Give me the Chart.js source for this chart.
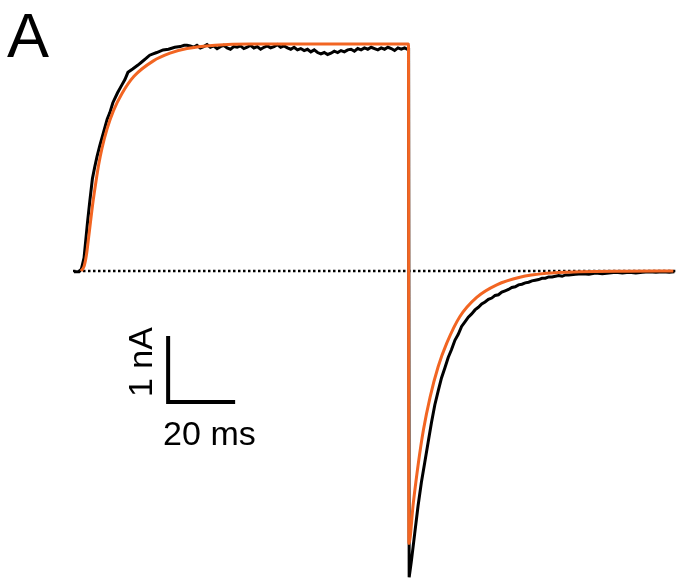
<!DOCTYPE html>
<html>
<head>
<meta charset="utf-8">
<script src="https://cdn.jsdelivr.net/npm/chart.js@4"></script>
<style>
  body { margin: 0; background: #fff; }
  #wrap { width: 677px; height: 581px; position: relative; }
</style>
</head>
<body>
<div id="wrap"><canvas id="traceChart"></canvas></div>
<script>
// recorded current (ms, nA)
const traceTime = [
  0.3, 1.0, 1.8, 2.5, 3.3, 4.3, 5.0, 5.8, 6.5, 7.2, 8.0, 9.0, 10.2, 11.0, 11.9, 13.3, 14.6, 15.5, 16.4, 17.8,
  19.4, 20.6, 21.8, 22.9, 23.9, 25.0, 26.9, 28.5, 30.4, 32.0, 33.2, 34.0,
  35, 36, 37, 38, 39, 40, 41, 42, 43, 44, 45, 46, 47, 48, 49, 50, 51, 52, 53, 54,
  55, 56, 57, 58, 59, 60, 61, 62, 63, 64, 65, 66, 67, 68, 69, 70, 71, 72, 73, 74,
  75, 76, 77, 78, 79, 80, 81, 82, 83, 84, 85, 86, 87, 88, 89, 90, 91, 92, 93, 94,
  95, 96, 97, 98, 99, 99.8, 100.18,
  100.35, 101, 102, 103, 104, 105, 106, 107, 108, 109, 110, 111, 112, 113, 114, 115, 116, 117, 118, 119,
  120, 121, 122, 123, 124, 125, 126, 127, 128, 129, 130, 131, 132, 133, 134, 135, 136, 137, 138, 139,
  140, 141, 142, 143, 144, 145, 146, 147, 148, 150, 152, 154, 156, 158, 160, 162, 164, 166, 168, 170,
  172, 174, 176, 178, 179.5
];
const traceCurrent = [
  -0.01, -0.01, -0.01, 0.03, 0.20, 0.72, 1.05, 1.40, 1.58, 1.74, 1.90, 2.08, 2.30, 2.40, 2.55, 2.70, 2.82, 2.90, 3.01, 3.06,
  3.12, 3.17, 3.22, 3.27, 3.29, 3.31, 3.35, 3.36, 3.39, 3.40, 3.42, 3.42,
  3.41, 3.39, 3.42, 3.38, 3.40, 3.43, 3.39, 3.41, 3.37, 3.40, 3.42, 3.38, 3.36, 3.40, 3.39, 3.41, 3.37, 3.39, 3.42, 3.38,
  3.40, 3.36, 3.39, 3.41, 3.38, 3.40, 3.43, 3.39, 3.41, 3.38, 3.36, 3.39, 3.35, 3.37, 3.34, 3.36, 3.32, 3.35, 3.31, 3.29,
  3.31, 3.28, 3.30, 3.33, 3.31, 3.34, 3.32, 3.35, 3.36, 3.33, 3.37, 3.35, 3.38, 3.36, 3.39, 3.37, 3.35, 3.38, 3.36, 3.39,
  3.37, 3.34, 3.38, 3.36, 3.38, 3.36, 3.36,
  -4.64, -4.40, -3.98, -3.56, -3.20, -2.90, -2.60, -2.30, -2.03, -1.82, -1.62, -1.47, -1.31, -1.19, -1.05, -0.96, -0.84, -0.77, -0.70, -0.65,
  -0.59, -0.55, -0.50, -0.47, -0.43, -0.41, -0.37, -0.36, -0.32, -0.30, -0.28, -0.25, -0.24, -0.21, -0.20, -0.18, -0.17, -0.15, -0.14, -0.13,
  -0.11, -0.11, -0.09, -0.09, -0.08, -0.07, -0.08, -0.06, -0.06, -0.05, -0.04, -0.05, -0.03, -0.04, -0.03, -0.02, -0.03, -0.02, -0.03, -0.02,
  -0.01, -0.02, -0.01, -0.02, -0.01
];

// fitted curve (ms, nA)
const fitTime = [
  2.4, 3.3, 4.03, 4.6, 5.22, 6.0, 6.87, 7.7, 8.66, 10.15, 12.09, 14.63, 18.21, 23.88, 28.96, 34.03, 42.39, 52.84, 100.15,
  100.25, 101.6, 103.1, 104.6, 106.6, 109.0, 111.6, 115.5, 120.5, 126.5, 133.4, 141.4, 151.3, 165, 179.2
];
const fitCurrent = [
  0, 0.07, 0.25, 0.48, 0.74, 1.06, 1.36, 1.62, 1.86, 2.15, 2.43, 2.69, 2.95, 3.18, 3.30, 3.37, 3.42, 3.44, 3.44,
  -4.13, -3.51, -2.91, -2.41, -1.91, -1.45, -1.09, -0.69, -0.40, -0.21, -0.095, -0.035, -0.012, -0.003, 0
];

// zero-current line
const baselineTime = [0, 179.8];
const baselineCurrent = [0, 0];

// scale bar: 20 ms, 1 nA
const scaleBarTime = [28.4, 28.4, 48.4];
const scaleBarCurrent = [-0.985, -1.985, -1.985];

const panelLabel = "A";
const timeBarLabel = "20 ms";
const currentBarLabel = "1 nA";

const toPoints = (xs, ys) => xs.map((x, i) => ({ x: x, y: ys[i] }));

const labelFont = "Liberation Sans, Arial, sans-serif";

const textPlugin = {
  id: "barText",
  afterDatasetsDraw(chart) {
    const c = chart.ctx;
    const xs = chart.scales.x;
    const ys = chart.scales.y;
    c.save();
    c.fillStyle = "#000";
    c.textBaseline = "alphabetic";

    c.font = "63px " + labelFont;
    c.textAlign = "left";
    c.fillText(panelLabel, xs.getPixelForValue(-19.7), ys.getPixelForValue(3.242));

    c.font = "34px " + labelFont;
    c.fillText(timeBarLabel, xs.getPixelForValue(26.9), ys.getPixelForValue(-2.636));

    c.translate(xs.getPixelForValue(23.6), ys.getPixelForValue(-1.379));
    c.rotate(-Math.PI / 2);
    c.textAlign = "center";
    c.fillText(currentBarLabel, 0, 0);
    c.restore();
  },
};

// first dataset is drawn on top
const ctx = document.getElementById("traceChart").getContext("2d");
const traceChart = new Chart(ctx, {
  type: "line",
  data: {
    datasets: [
      {
        label: "fit",
        data: toPoints(fitTime, fitCurrent),
        borderColor: "#f26522",
        borderWidth: 3,
        pointRadius: 0,
        cubicInterpolationMode: "monotone",
      },
      {
        label: "scale",
        data: toPoints(scaleBarTime, scaleBarCurrent),
        borderColor: "#000",
        borderWidth: 4,
        borderCapStyle: "butt",
        borderJoinStyle: "miter",
        pointRadius: 0,
        tension: 0,
      },
      {
        label: "current",
        data: toPoints(traceTime, traceCurrent),
        borderColor: "#000",
        borderWidth: 3,
        pointRadius: 0,
        tension: 0,
      },
      {
        label: "baseline",
        data: toPoints(baselineTime, baselineCurrent),
        borderColor: "#000",
        borderWidth: 2.5,
        borderDash: [2.5, 2.5],
        pointRadius: 0,
        tension: 0,
      },
    ],
  },
  options: {
    responsive: true,
    maintainAspectRatio: false,
    animation: false,
    layout: { padding: 0 },
    scales: {
      x: { type: "linear", min: -21.79, max: 180.3, display: false },
      y: { type: "linear", min: -4.697, max: 4.106, display: false },
    },
    plugins: {
      legend: { display: false },
      tooltip: { enabled: false },
    },
  },
  plugins: [textPlugin],
});
</script>
</body>
</html>
